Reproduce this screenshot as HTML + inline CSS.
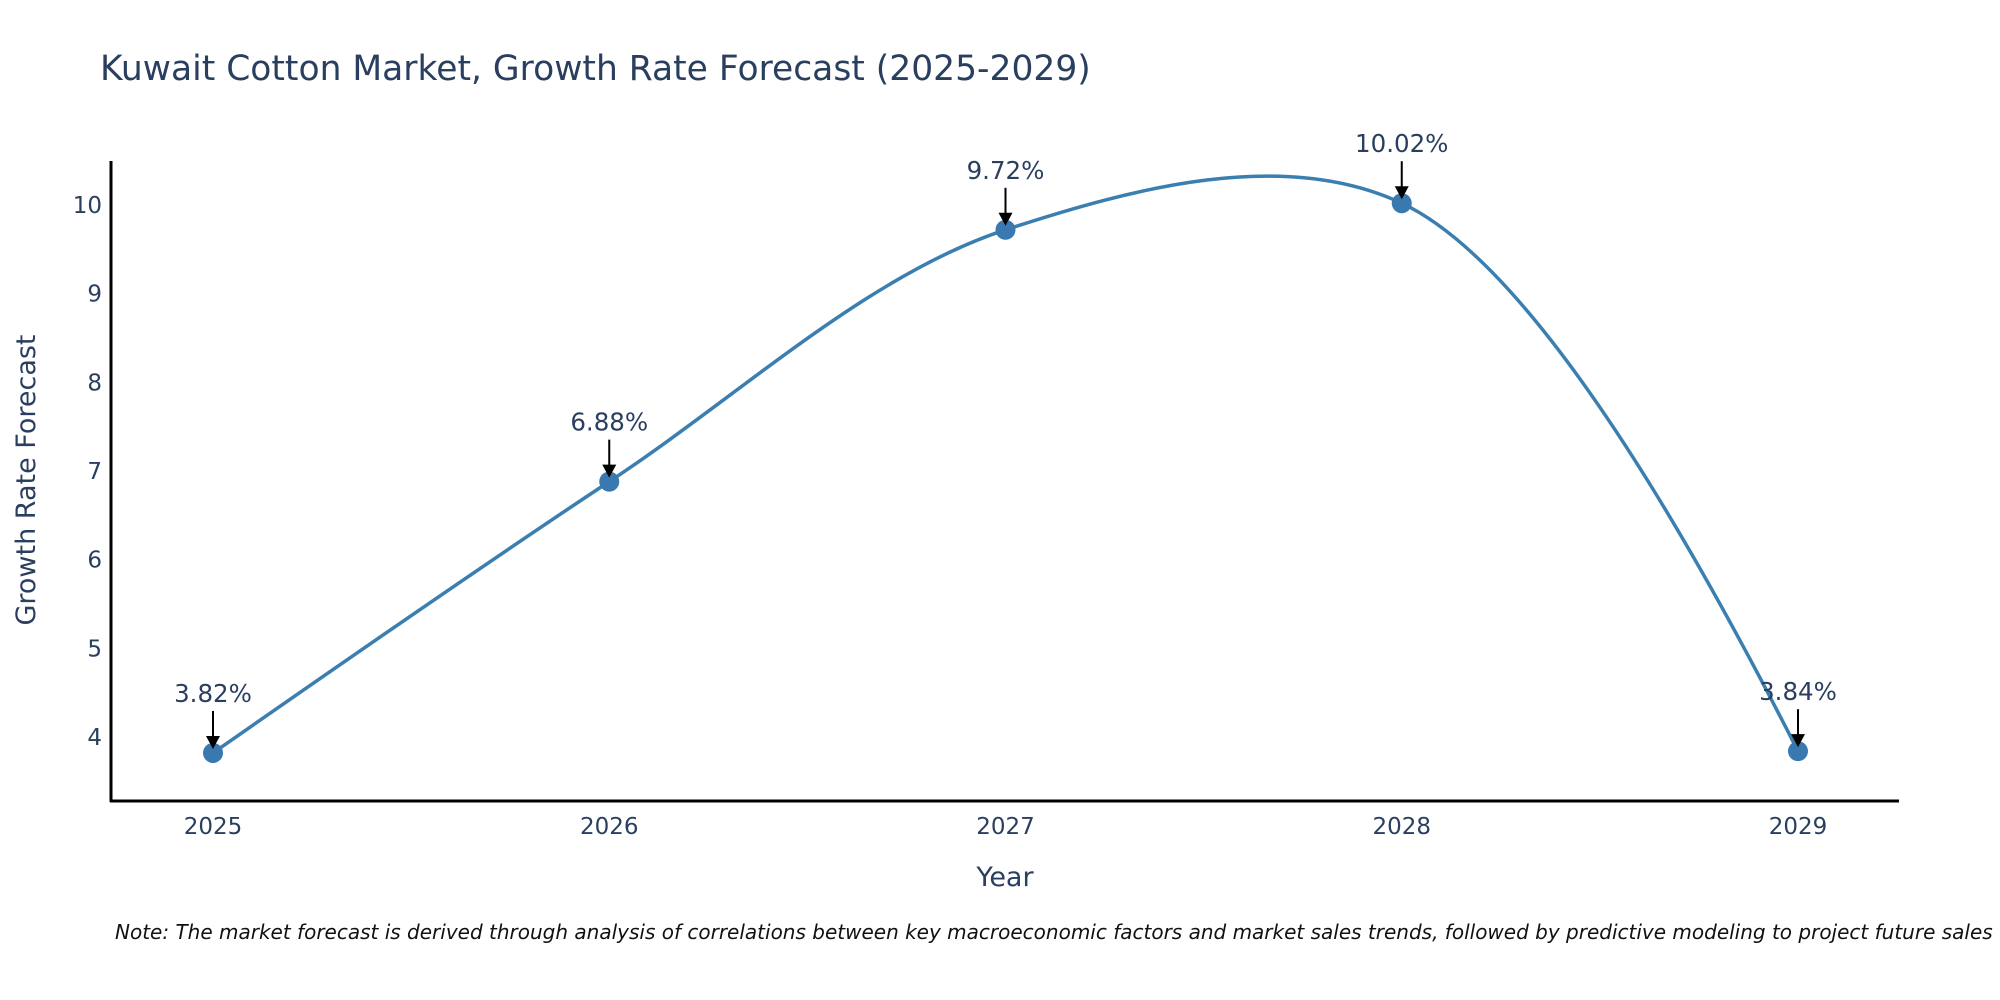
<!DOCTYPE html>
<html><head><meta charset="utf-8">
<style>
html,body{margin:0;padding:0;background:#fff;}
svg{display:block;font-family:"DejaVu Sans","Liberation Sans",sans-serif;}
</style></head>
<body>
<svg id="chart" width="2000" height="1000" viewBox="0 0 2000 1000" xmlns="http://www.w3.org/2000/svg">
  <text x="100" y="80" font-size="34.5" fill="#2a3f5f">Kuwait Cotton Market, Growth Rate Forecast (2025-2029)</text>
  <g id="yticks"></g>
  <g id="xticks"></g>
  <line x1="111" y1="161" x2="111" y2="802" stroke="#000" stroke-width="3"/>
  <line x1="110" y1="801" x2="1899" y2="801" stroke="#000" stroke-width="3"/>
  <path id="line" fill="none" stroke="#3a7fb0" stroke-width="3.5"/>
  <g id="marks"></g>
  <g id="annos"></g>
  <text x="1005" y="886" font-size="27" fill="#2a3f5f" text-anchor="middle">Year</text>
  <text transform="translate(35,480) rotate(-90)" font-size="27" fill="#2a3f5f" text-anchor="middle">Growth Rate Forecast</text>
  <text x="115" y="939" font-size="20" font-style="italic" fill="#111">Note: The market forecast is derived through analysis of correlations between key macroeconomic factors and market sales trends, followed by predictive modeling to project future sales</text>
</svg>
<script>
const years = ["2025","2026","2027","2028","2029"];
const values = [3.82, 6.88, 9.72, 10.02, 3.84];
const labels = ["3.82%","6.88%","9.72%","10.02%","3.84%"];
const yTicks = [4,5,6,7,8,9,10];

const NS = "http://www.w3.org/2000/svg";
function xPos(i){ return 213 + i*396.25; }
function yPos(v){ return 737 - (v-4)*88.67; }
function mk(tag, attrs, parent){
  const e = document.createElementNS(NS, tag);
  for (const k in attrs) e.setAttribute(k, attrs[k]);
  parent.appendChild(e); return e;
}
const yt = document.getElementById('yticks');
yTicks.forEach(t=>{
  const e = mk('text',{x:102,y:yPos(t)+8,'font-size':23,fill:'#2a3f5f','text-anchor':'end'},yt);
  
  
  e.textContent = t;
});
const xt = document.getElementById('xticks');
years.forEach((y,i)=>{
  const e = mk('text',{x:xPos(i),y:834,'font-size':23,fill:'#2a3f5f','text-anchor':'middle'},xt);
  
  
  e.textContent = y;
});
const pts = values.map((v,i)=>[xPos(i), yPos(v)]);
function tangent(p,t,n,s){
  const d1x=p[0]-t[0], d1y=p[1]-t[1], d2x=n[0]-t[0], d2y=n[1]-t[1];
  const d1a=Math.pow(d1x*d1x+d1y*d1y,0.25), d2a=Math.pow(d2x*d2x+d2y*d2y,0.25);
  const nx=(d2a*d2a*d1x-d1a*d1a*d2x)*s, ny=(d2a*d2a*d1y-d1a*d1a*d2y)*s;
  const den1=3*d2a*(d1a+d2a), den2=3*d1a*(d1a+d2a);
  return [[t[0]+nx/den1, t[1]+ny/den1],[t[0]-nx/den2, t[1]-ny/den2]];
}
const tg=[];
for(let i=1;i<pts.length-1;i++) tg.push(tangent(pts[i-1],pts[i],pts[i+1],1));
let d = `M${pts[0]} Q${tg[0][0]} ${pts[1]}`;
for(let i=2;i<pts.length-1;i++) d += ` C${tg[i-2][1]} ${tg[i-1][0]} ${pts[i]}`;
d += ` Q${tg[pts.length-3][1]} ${pts[pts.length-1]}`;
document.getElementById('line').setAttribute('d', d);

const mg = document.getElementById('marks');
const ag = document.getElementById('annos');
pts.forEach((p,i)=>{
  const c = mk('circle',{cx:p[0],cy:p[1],r:10,fill:'#3a78b0'},mg);
  
  
  const l = mk('line',{x1:p[0],y1:p[1]-42,x2:p[0],y2:p[1]-14,stroke:'#000','stroke-width':2},ag);
  
  
  const h = mk('polygon',{points:`${p[0]-7},${p[1]-17} ${p[0]+7},${p[1]-17} ${p[0]},${p[1]-4}`,fill:'#000'},ag);
  
  
  const t = mk('text',{x:p[0],y:p[1]-51,'font-size':24.5,fill:'#2a3f5f','text-anchor':'middle'},ag);
  
  
  t.textContent = labels[i];
});
</script>
</body></html>
